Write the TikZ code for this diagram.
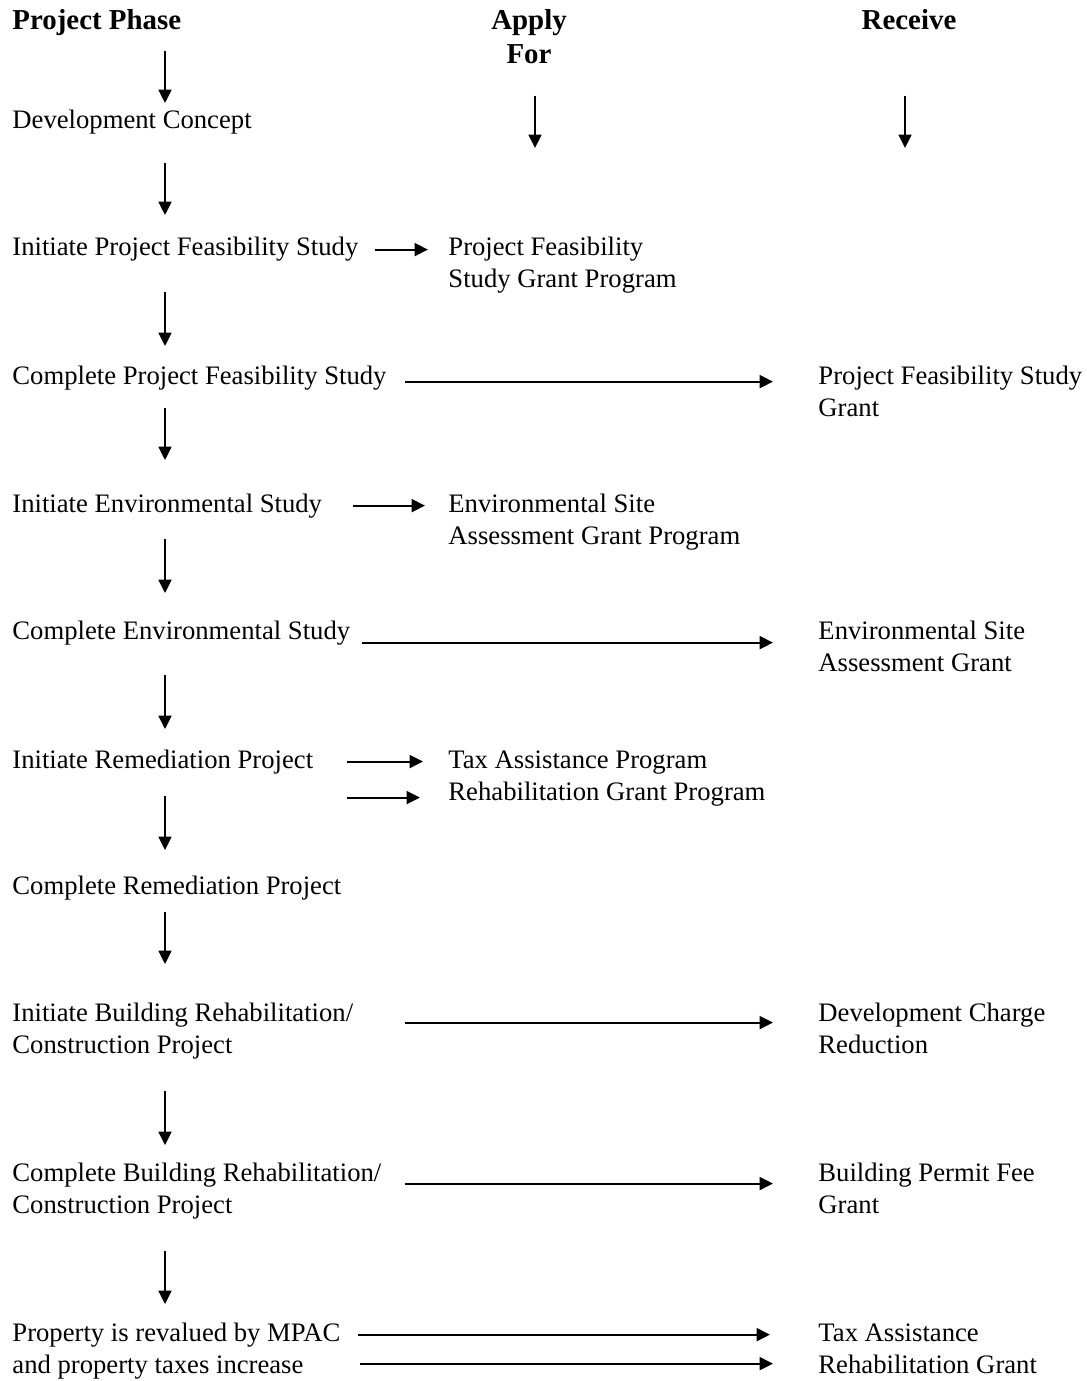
\documentclass[tikz,border=0pt]{standalone}
\usepackage{fontspec}
\setmainfont{Liberation Serif}
\usetikzlibrary{arrows.meta}
\tikzset{
  txt/.style={anchor=base west, inner sep=0pt, align=left, font=\fontsize{12}{14.4}\selectfont},
  hdr/.style={anchor=base, inner sep=0pt, align=center, font=\fontsize{13}{15.3}\selectfont\bfseries},
  arr/.style={line width=0.85pt, -{Triangle[length=6pt,width=5.8pt]}}
}
\begin{document}
\begin{tikzpicture}[x=0.45pt, y=-0.45pt]
    \useasboundingbox (0,0) rectangle (1086,1381);
    \coordinate (col) at (165,0);
    % column heads (base = last line)
    \node[hdr, anchor=base west] (phase) at (12,30) {Project Phase};
    \node[hdr] (apply) at (529,64) {Apply\\For};
    \node[hdr] (receive) at (909,30) {Receive};
    \coordinate (applyend) at (535,148);
    \coordinate (receiveend) at (905,148);
    \draw[arr, shorten <=13.95pt] (apply.south -| applyend) -- (applyend);
    \draw[arr, shorten <=29.25pt] (receive.south -| receiveend) -- (receiveend);
    % project phase
    \node[txt] (dev) at (12,129) {Development Concept};
    \node[txt] (initpfs) at (12,256) {Initiate Project Feasibility Study};
    \node[txt] (comppfs) at (12,385) {Complete Project Feasibility Study};
    \node[txt] (initenv) at (12,512) {Initiate Environmental Study};
    \node[txt] (compenv) at (12,639) {Complete Environmental Study};
    \node[txt] (initrem) at (12,768) {Initiate Remediation Project};
    \node[txt] (comprem) at (12,894) {Complete Remediation Project};
    \node[txt] (initbld) at (12,1053) {Initiate Building Rehabilitation/\\Construction Project};
    \node[txt] (compbld) at (12,1213) {Complete Building Rehabilitation/\\Construction Project};
    \node[txt] (mpac) at (12,1373) {Property is revalued by MPAC\\and property taxes increase};
    % apply for
    \node[txt] (pfsgp) at (448,288) {Project Feasibility\\Study Grant Program};
    \node[txt] (esagp) at (448,544) {Environmental Site\\Assessment Grant Program};
    \node[txt] (tapgp) at (448,800) {Tax Assistance Program\\Rehabilitation Grant Program};
    % receive
    \node[txt] (pfsg) at (818,417) {Project Feasibility Study\\Grant};
    \node[txt] (esag) at (818,671) {Environmental Site\\Assessment Grant};
    \node[txt] (dcr) at (818,1053) {Development Charge\\Reduction};
    \node[txt] (bpf) at (818,1213) {Building Permit Fee\\Grant};
    \node[txt] (targ) at (818,1373) {Tax Assistance\\Rehabilitation Grant};
    % down the phases
    \draw[arr, shorten <=6.3pt, shorten >=3.15pt] (phase.south -| col) -- (dev.north -| col);
    \draw[arr, shorten <=12.6pt, shorten >=9.9pt] (dev.south -| col) -- (initpfs.north -| col);
    \draw[arr, shorten <=13.5pt, shorten >=9pt] (initpfs.south -| col) -- (comppfs.north -| col);
    \draw[arr, shorten <=7.65pt, shorten >=14.85pt] (comppfs.south -| col) -- (initenv.north -| col);
    \draw[arr, shorten <=9.45pt, shorten >=12.15pt] (initenv.south -| col) -- (compenv.north -| col);
    \draw[arr, shorten <=13.5pt, shorten >=9pt] (compenv.south -| col) -- (initrem.north -| col);
    \draw[arr, shorten <=9.9pt, shorten >=11.25pt] (initrem.south -| col) -- (comprem.north -| col);
    \draw[arr, shorten <=5.4pt, shorten >=17.1pt] (comprem.south -| col) -- (initbld.north -| col);
    \draw[arr, shorten <=14.4pt, shorten >=7.65pt] (initbld.south -| col) -- (compbld.north -| col);
    \draw[arr, shorten <=14.4pt, shorten >=8.1pt] (compbld.south -| col) -- (mpac.north -| col);
    % across to apply for and receive
    \draw[arr, shorten <=7.2pt, shorten >=9pt] (initpfs.east) -- (initpfs.east -| pfsgp.west);
    \draw[arr, shorten <=8.1pt, shorten >=20.25pt] ([yshift=-1.35pt]comppfs.east) -- ([yshift=-1.35pt]comppfs.east -| pfsg.west);
    \draw[arr, shorten <=13.95pt, shorten >=10.35pt] (initenv.east) -- (initenv.east -| esagp.west);
    \draw[arr, shorten <=4.95pt, shorten >=20.25pt] ([yshift=-4.5pt]compenv.east) -- ([yshift=-4.5pt]compenv.east -| esag.west);
    \draw[arr, shorten <=14.85pt, shorten >=11.25pt] (initrem.east) -- (initrem.east -| tapgp.west);
    \draw[arr, shorten <=14.85pt, shorten >=12.6pt] ([yshift=-16.2pt]initrem.east) -- ([yshift=-16.2pt]initrem.east -| tapgp.west);
    \draw[arr, shorten <=22.95pt, shorten >=20.25pt] ([yshift=3.6pt]initbld.east) -- ([yshift=3.6pt]initbld.east -| dcr.west);
    \draw[arr, shorten <=10.35pt, shorten >=20.25pt] ([yshift=3.15pt]compbld.east) -- ([yshift=3.15pt]compbld.east -| bpf.west);
    \draw[arr, shorten <=7.65pt, shorten >=21.6pt] ([yshift=7.2pt]mpac.east) -- ([yshift=7.2pt]mpac.east -| targ.west);
    \draw[arr, shorten <=8.55pt, shorten >=20.25pt] ([yshift=-5.85pt]mpac.east) -- ([yshift=-5.85pt]mpac.east -| targ.west);
\end{tikzpicture}
\end{document}
